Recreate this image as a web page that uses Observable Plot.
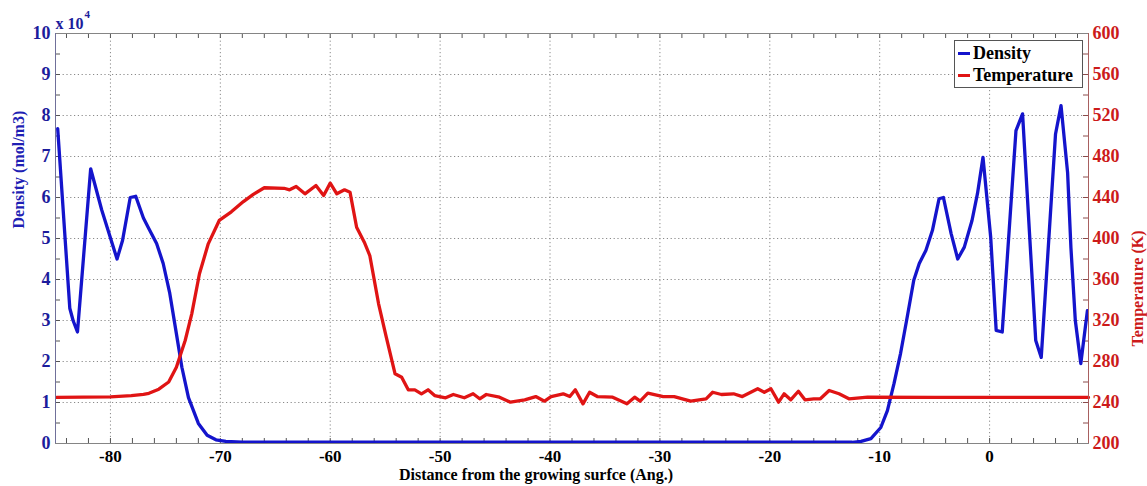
<!DOCTYPE html>
<html>
<head>
<meta charset="utf-8">
<script src="https://cdn.jsdelivr.net/npm/d3@7"></script>
<script src="https://cdn.jsdelivr.net/npm/@observablehq/plot@0.6"></script>
<style>
html,body{margin:0;padding:0;background:#fff;}
#wrap{position:relative;width:1147px;height:486px;}
#wrap svg text{font-family:"Liberation Serif","Times New Roman",serif;font-weight:bold;}
.legend{position:absolute;left:954px;top:40px;width:129px;height:48px;border:1px solid #555;background:#fff;
  font-family:"Liberation Serif","Times New Roman",serif;font-weight:bold;font-size:18px;color:#000;box-sizing:border-box;}
.legend .row{position:absolute;left:0;height:22px;line-height:22px;white-space:nowrap;}
.legend .sw{position:absolute;left:3px;top:10px;width:12px;height:3px;}
.legend .lab{position:absolute;left:18px;top:0;}
</style>
</head>
<body>
<div id="wrap"></div>
<script>
// ---- data ----
const densityX = [-84.8, -83.7, -83.4, -83.0, -81.8, -80.8, -79.4, -78.9, -78.2, -77.7, -77.0, -76.5, -75.8, -75.2, -74.6, -74.0, -73.5, -72.9, -72.0, -71.2, -70.4, -69.5, -68.0, -60.0, -50.0, -40.0, -30.0, -20.0, -12.5, -11.7, -10.8, -9.9, -9.3, -8.7, -8.1, -7.5, -6.9, -6.4, -5.8, -5.2, -4.6, -4.2, -3.5, -2.9, -2.3, -1.6, -1.1, -0.6, 0.1, 0.6, 1.15, 2.4, 3.0, 4.2, 4.7, 6.0, 6.5, 7.1, 7.4, 7.8, 8.3, 8.9];
const densityY = [7.68, 3.3, 3.0, 2.72, 6.7, 5.7, 4.5, 4.95, 6.0, 6.03, 5.5, 5.24, 4.88, 4.39, 3.66, 2.68, 1.86, 1.12, 0.49, 0.2, 0.09, 0.05, 0.03, 0.03, 0.03, 0.03, 0.03, 0.03, 0.03, 0.05, 0.12, 0.39, 0.8, 1.46, 2.2, 3.08, 3.98, 4.39, 4.71, 5.2, 5.97, 6.0, 5.12, 4.5, 4.79, 5.44, 6.1, 6.98, 5.03, 2.76, 2.72, 7.63, 8.04, 2.51, 2.1, 7.55, 8.24, 6.6, 4.78, 3.0, 1.95, 3.24];

const tempX = [-84.9, -80.0, -78.1, -77.0, -76.5, -75.6, -74.7, -74.0, -73.2, -72.6, -71.9, -71.1, -70.1, -69.0, -67.9, -67.0, -66.0, -64.2, -63.7, -63.1, -62.3, -61.3, -60.6, -60.0, -59.4, -58.7, -58.2, -57.6, -56.9, -56.4, -55.6, -54.9, -54.1, -53.5, -52.9, -52.3, -51.7, -51.1, -50.5, -49.5, -48.8, -47.8, -47.0, -46.4, -45.8, -44.6, -43.6, -42.3, -41.3, -40.5, -39.9, -38.8, -38.2, -37.7, -37.0, -36.4, -35.7, -34.3, -33.0, -32.3, -31.8, -31.1, -29.7, -28.7, -27.2, -25.8, -25.2, -24.4, -23.3, -22.5, -21.1, -20.5, -19.9, -19.2, -18.7, -18.1, -17.4, -16.8, -16.0, -15.4, -14.6, -13.7, -12.8, -11.1, -5.0, 0.0, 5.0, 9.0];
const tempY = [245, 245.5, 246.8, 248, 249, 253, 260, 274.4, 300.5, 326.5, 365.6, 394.8, 417.6, 426, 436, 443, 449.5, 449, 447.5, 450.7, 443.6, 451.7, 442, 454, 443.6, 447.5, 445.2, 411, 396.4, 383.4, 336.3, 303.7, 268, 264.7, 252.4, 252.4, 248.5, 252.4, 246.8, 244.6, 247.8, 244.6, 248.5, 243.6, 247.8, 245.2, 240.3, 242.6, 245.8, 241.3, 245.8, 248.5, 245.8, 252.4, 238.7, 250, 245.8, 245.2, 238.7, 245.2, 241.3, 249.1, 245.8, 245.8, 241.3, 243.6, 250, 247.8, 248.5, 245.8, 253.4, 250, 253.4, 240.3, 248.5, 242.6, 251, 242.6, 243.6, 243.6, 251.7, 248.5, 243.6, 245.2, 245, 245, 245, 245];

const xDomain = [-85, 9];
const yDomain = [0, 10];
const tDomain = [200, 600];
const xTicks = [-80, -70, -60, -50, -40, -30, -20, -10, 0];
const xMinorTicks = d3.range(-84, 9, 2);
const yTicks = [0, 1, 2, 3, 4, 5, 6, 7, 8, 9, 10];
const yMinorTicks = d3.range(0, 10.01, 0.5);
const tTicks = [200, 240, 280, 320, 360, 400, 440, 480, 520, 560, 600];

const seriesNames = ["Density", "Temperature"];
const seriesColors = ["#1414cc", "#e01414"];
const xLabel = "Distance from the growing surfce (Ang.)";
const yLabel = "Density (mol/m3)";
const y2Label = "Temperature (K)";

// temperature -> shared y units (K mapped onto the density axis range)
const tScale = (yDomain[1] - yDomain[0]) / (tDomain[1] - tDomain[0]);
const toY = t => (t - tDomain[0]) * tScale + yDomain[0];
const fromY = y => Math.round((y - yDomain[0]) / tScale + tDomain[0]);

const density = densityX.map((x, i) => ({x, y: densityY[i]}));
const temperature = tempX.map((x, i) => ({x, t: tempY[i]}));

const W = 1147, H = 486;
const mL = 55, mR = 59, mT = 33, mB = 43;
const plotW = W - mL - mR, plotH = H - mT - mB;
const gridStyle = {stroke: "#8a8a8a", strokeOpacity: 1, strokeDasharray: "1.2,2.6", strokeWidth: 1};
const tickLen = 5;

const chart = Plot.plot({
  width: W, height: H,
  marginLeft: mL, marginRight: mR, marginTop: mT, marginBottom: mB,
  x: {domain: xDomain},
  y: {domain: yDomain},
  marks: [
    Plot.gridX(xTicks, gridStyle),
    Plot.gridY(yTicks, gridStyle),
    // inward tick marks on all four sides
    Plot.tickX(xMinorTicks, {x: d => d, stroke: "#555", insetTop: plotH - tickLen}),
    Plot.tickX(xMinorTicks, {x: d => d, stroke: "#555", insetBottom: plotH - tickLen}),
    Plot.tickY(yMinorTicks, {y: d => d, stroke: "#555", insetRight: plotW - tickLen}),
    Plot.tickY(yMinorTicks, {y: d => d, stroke: "#8a4a4a", insetLeft: plotW - tickLen}),
    Plot.line(density, {x: "x", y: "y", stroke: seriesColors[0], strokeWidth: 3.3}),
    Plot.line(temperature, {x: "x", y: d => toY(d.t), stroke: seriesColors[1], strokeWidth: 3.3}),
    Plot.frame({stroke: "#858585"}),
    Plot.ruleX([xDomain[0]], {stroke: "#70709a"}),
    Plot.ruleX([xDomain[1]], {stroke: "#a86060"}),
    // tick labels
    Plot.axisX(xTicks, {anchor: "bottom", tickSize: 0, tickPadding: 6, fontSize: 17, fill: "#000", tickFormat: d => String(d), label: null}),
    Plot.axisY(yTicks, {anchor: "left", tickSize: 0, tickPadding: 5, fontSize: 18, fill: "#1c1c9c", tickFormat: d => String(d), label: null}),
    Plot.axisY(tTicks.map(toY), {anchor: "right", tickSize: 0, tickPadding: 4, fontSize: 18, fill: "#cc1a1a", tickFormat: d => String(fromY(d)), label: null}),
    // axis titles
    Plot.text([yLabel], {frameAnchor: "left", rotate: -90, dx: -37, dy: -10, fontSize: 16, fill: "#1f1fb4"}),
    Plot.text([y2Label], {frameAnchor: "right", rotate: -90, dx: 49, dy: -8, fontSize: 16, fill: "#cc1a1a"}),
    Plot.text([xLabel], {frameAnchor: "bottom", dx: -36, dy: 36, fontSize: 16, fill: "#000"}),
    // exponent note
    Plot.text(["x 10"], {frameAnchor: "top-left", textAnchor: "start", lineAnchor: "bottom", dy: -5, fontSize: 16, fill: "#1c1c9c"}),
    Plot.text(["4"], {frameAnchor: "top-left", textAnchor: "start", lineAnchor: "bottom", dx: 29, dy: -16, fontSize: 11, fill: "#1c1c9c"})
  ]
});

const wrap = document.getElementById("wrap");
wrap.appendChild(chart);

// legend
const legend = document.createElement("div");
legend.className = "legend";
seriesNames.forEach((name, i) => {
  const row = document.createElement("div");
  row.className = "row";
  row.style.top = (1 + i * 22) + "px";
  const sw = document.createElement("div");
  sw.className = "sw";
  sw.style.background = seriesColors[i];
  const lab = document.createElement("span");
  lab.className = "lab";
  lab.textContent = name;
  row.appendChild(sw);
  row.appendChild(lab);
  legend.appendChild(row);
});
wrap.appendChild(legend);
</script>
</body>
</html>
